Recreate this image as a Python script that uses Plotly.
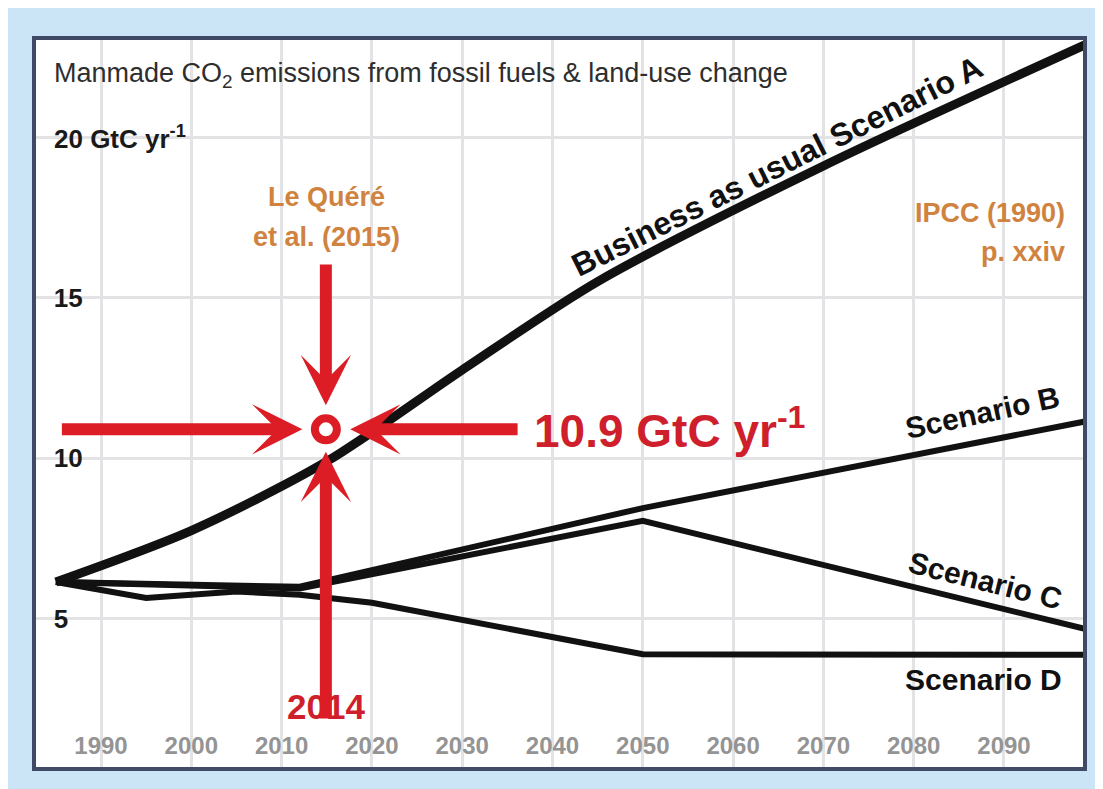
import plotly.graph_objects as go

# ---------------- data ----------------
years_A = [1985, 2000, 2015, 2030, 2045, 2070, 2100]
values_A = [6.15, 7.75, 9.9, 12.75, 15.5, 19.1, 23.0]

years_B = [1985, 2012, 2050, 2100]
values_B = [6.15, 6.0, 8.45, 11.2]

years_C = [1985, 2012, 2050, 2100]
values_C = [6.15, 5.95, 8.05, 4.62]

years_D = [1985, 1995, 2005, 2012, 2020, 2050, 2100]
values_D = [6.15, 5.65, 5.85, 5.75, 5.5, 3.9, 3.88]

obs_year = 2014.9          # Le Quéré et al. (2015) point, labelled 2014
obs_value = 10.9

x_tick_vals = [1990, 2000, 2010, 2020, 2030, 2040, 2050, 2060, 2070, 2080, 2090]
x_tick_text = ["1990", "2000", "2010", "2020", "2030", "2040", "2050", "2060", "2070", "2080", "2090"]
y_tick_vals = [5, 10, 15, 20]
y_tick_text = ["5", "10", "15", ""]
y_unit_label = "20 GtC yr<sup>-1</sup>"

# arrows pointing at the observation (tail -> tip, in data units)
arrow_tail_x = [1985.5, 2036.3, obs_year, obs_year]
arrow_tail_y = [obs_value, obs_value, 16.08, 1.85]
arrow_tip_x = [2012.3, 2017.6, obs_year, obs_year]
arrow_tip_y = [obs_value, obs_value, 11.65, 10.2]

# ---------------- styling ----------------
FONT = "Liberation Sans, Arial, sans-serif"
RED = "#dc1d26"
RED_TXT = "#cf1f2c"
ORANGE = "#d0823f"
BLACK = "#111111"

fig = go.Figure()

fig.add_trace(go.Scatter(x=years_D, y=values_D, mode="lines",
                         line=dict(color=BLACK, width=6), hoverinfo="skip"))
fig.add_trace(go.Scatter(x=years_C, y=values_C, mode="lines",
                         line=dict(color=BLACK, width=6), hoverinfo="skip"))
fig.add_trace(go.Scatter(x=years_B, y=values_B, mode="lines",
                         line=dict(color=BLACK, width=6), hoverinfo="skip"))
fig.add_trace(go.Scatter(x=years_A, y=values_A, mode="lines",
                         line=dict(color=BLACK, width=9, shape="spline", smoothing=0.8),
                         hoverinfo="skip"))

annotations = []

# "2014" label first so the arrow is drawn over it
annotations.append(dict(text="<b>2014</b>", x=obs_year, y=2.26, xref="x", yref="y",
                        xanchor="center", yanchor="middle", showarrow=False,
                        font=dict(family=FONT, size=35, color=RED_TXT)))

# red arrows
for tx, ty, hx, hy in zip(arrow_tail_x, arrow_tail_y, arrow_tip_x, arrow_tip_y):
    annotations.append(dict(
        x=hx, y=hy, ax=tx, ay=ty, xref="x", yref="y", axref="x", ayref="y",
        text="", showarrow=True, arrowhead=3, arrowsize=0.7, arrowwidth=12,
        arrowcolor=RED, standoff=0, startstandoff=0))

# texts
annotations += [
    dict(text="Manmade CO<sub>2</sub> emissions from fossil fuels &amp; land-use change",
         xref="paper", yref="paper", x=0.0153, y=0.952, xanchor="left", yanchor="middle",
         showarrow=False, font=dict(family=FONT, size=27, color="#2e2e2e")),
    dict(text="<b>" + y_unit_label + "</b>", xref="paper", yref="y", x=0.0153, y=20,
         xanchor="left", yanchor="middle", showarrow=False,
         font=dict(family=FONT, size=26, color="#1a1a1a")),
    dict(text="<b>Business as usual Scenario A</b>", x=2064.9, y=19.1, xref="x", yref="y",
         textangle=-26.5, showarrow=False, font=dict(family=FONT, size=32, color=BLACK)),
    dict(text="<b>Scenario B</b>", x=2087.6, y=11.44, xref="x", yref="y",
         textangle=-12, showarrow=False, font=dict(family=FONT, size=30, color=BLACK)),
    dict(text="<b>Scenario C</b>", x=2087.9, y=6.21, xref="x", yref="y",
         textangle=14, showarrow=False, font=dict(family=FONT, size=30, color=BLACK)),
    dict(text="<b>Scenario D</b>", x=2087.7, y=3.1, xref="x", yref="y",
         showarrow=False, font=dict(family=FONT, size=30, color=BLACK)),
    dict(text="<b>10.9 GtC yr<sup>-1</sup></b>", x=2037.7, y=10.95, xref="x", yref="y",
         xanchor="left", yanchor="middle", showarrow=False,
         font=dict(family=FONT, size=46, color=RED_TXT)),
    dict(text="<b>Le Quéré</b>", x=2015.0, y=18.14, xref="x", yref="y",
         xanchor="center", yanchor="middle", showarrow=False,
         font=dict(family=FONT, size=27, color=ORANGE)),
    dict(text="<b>et al. (2015)</b>", x=2015.0, y=16.89, xref="x", yref="y",
         xanchor="center", yanchor="middle", showarrow=False,
         font=dict(family=FONT, size=27, color=ORANGE)),
    dict(text="<b>IPCC (1990)</b>", x=2097.0, y=17.64, xref="x", yref="y",
         xanchor="right", yanchor="middle", showarrow=False,
         font=dict(family=FONT, size=27, color=ORANGE)),
    dict(text="<b>p. xxiv</b>", x=2097.0, y=16.42, xref="x", yref="y",
         xanchor="right", yanchor="middle", showarrow=False,
         font=dict(family=FONT, size=27, color=ORANGE)),
]

fig.add_trace(go.Scatter(x=[obs_year], y=[obs_value], mode="markers",
                         marker=dict(symbol="circle", size=22, color="white",
                                     line=dict(color=RED, width=8)),
                         hoverinfo="skip"))

fig.update_layout(
    width=1095, height=781,
    margin=dict(l=28, r=20, t=32, b=22),
    paper_bgcolor="#cbe5f6",
    plot_bgcolor="white",
    showlegend=False,
    annotations=annotations,
    font=dict(family=FONT),
)

fig.update_xaxes(
    range=[1982.8, 2098.75], tickvals=x_tick_vals, ticktext=x_tick_text,
    ticklabelposition="inside", ticks="inside", ticklen=10, tickcolor="rgba(0,0,0,0)",
    tickfont=dict(family=FONT, size=24, color="#949494", weight="bold"),
    showgrid=True, gridcolor="#e3e3e6", gridwidth=2.5, zeroline=False,
    showline=True, linecolor="#3f4a66", linewidth=4, mirror=True,
)
fig.update_yaxes(
    range=[0.39, 23.02], tickvals=y_tick_vals, ticktext=y_tick_text,
    ticklabelposition="inside", ticks="inside", ticklen=14, tickcolor="rgba(0,0,0,0)",
    ticklabelstandoff=6,
    tickfont=dict(family=FONT, size=26, color="#1a1a1a", weight="bold"),
    showgrid=True, gridcolor="#e3e3e6", gridwidth=2.5, zeroline=False,
    showline=True, linecolor="#3f4a66", linewidth=4, mirror=True,
)

fig.write_html("out.html")
